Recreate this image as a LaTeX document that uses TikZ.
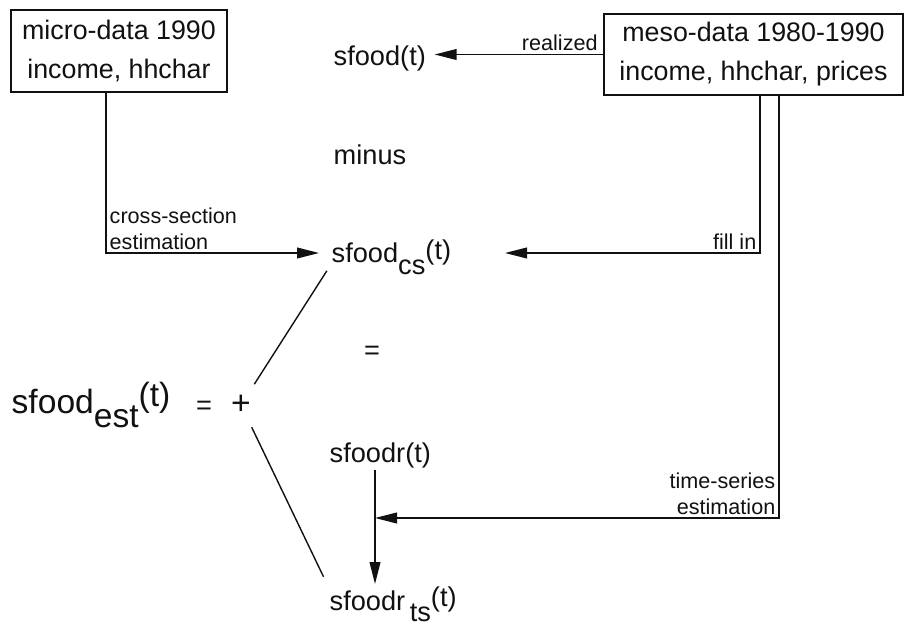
\documentclass[tikz,border=0pt]{standalone}
\usepackage{fontspec}
\setmainfont{Liberation Sans}
\usetikzlibrary{arrows.meta,calc,positioning}
\definecolor{SchemeInk}{HTML}{111111}
\newcommand{\lowpart}[1]{\raisebox{-0.8ex}{#1}}
\newcommand{\highpart}[1]{\raisebox{0.25ex}{#1}}

\begin{document}
\begin{tikzpicture}[x=0.5pt,y=-0.5pt,SchemeInk,line width=0.7pt,
    datbox/.style={draw,align=center,inner sep=0pt,
      font=\fontsize{13.4}{19.5}\selectfont},
    term/.style={inner sep=1pt,anchor=base west,
      font=\fontsize{13.6}{16}\selectfont},
    note/.style={inner sep=1.5pt,font=\fontsize{10.8}{13}\selectfont},
    arr/.style={-{Triangle[length=11pt,width=5.4pt]}}]
  \useasboundingbox (0,0) rectangle (904,625);
  % data sources
  \node[datbox,minimum width=108pt,minimum height=41pt] (micro)
    at (119,51) {micro-data 1990\\income, hhchar};
  \node[datbox,minimum width=149.5pt,minimum height=40.5pt] (meso)
    at (753.5,54.5) {meso-data 1980-1990\\income, hhchar, prices};
  % terms of the decomposition
  \node[term] (real) at (331,66) {sfood(t)};
  \node[term] (minus) at (331,165) {minus};
  \node[term] (cs) at (329,263) {sfood\lowpart{cs}\highpart{(t)}};
  \node[term,anchor=center] (eqsign) at (372,353) {=};
  \node[term] (sr) at (327,462) {sfoodr(t)};
  \node[term] (srts) at (327,610) {sfoodr\,\lowpart{ts}\highpart{(t)}};
  \node[term,font=\fontsize{16.8}{20}\selectfont] (est)
    at (9,413) {sfood\lowpart{est}\raisebox{0.35ex}{(t)}};
  \node[term,anchor=center] (eqbig) at (204,408) {=};
  \node[circle,inner sep=0pt,minimum size=24pt,
    font=\fontsize{16.8}{20}\selectfont] (plus) at (241,405) {+};
  % connectors
  \coordinate (cselbow) at (106,253);
  \draw[arr,shorten >=5pt] (micro.south -| cselbow) -- (cselbow)
    -- (cselbow -| cs.west);
  \node[note,anchor=south west,align=left] (cslab)
    at (cselbow) {cross-section\\estimation};
  \draw[arr,shorten >=3pt] (meso.west) -- (meso.west -| real.east);
  \node[note,anchor=south east,xshift=-1pt] (reallab)
    at (meso.west) {realized};
  \coordinate (fillel) at (760,253);
  \coordinate (filltip) at (505,253);
  \draw[arr] (meso.south -| fillel) -- (fillel) -- (filltip);
  \node[note,anchor=south east] (filllab) at (fillel) {fill in};
  \coordinate (tsel) at (779,518);
  \coordinate (tsjoin) at (375,518);
  \draw[arr] (meso.south -| tsel) -- (tsel) -- (tsjoin);
  \node[note,anchor=south east,align=right] (tslab)
    at (tsel) {time-series\\estimation};
  \draw[arr] (tsjoin |- sr.south) -- (tsjoin |- srts.north);
  \draw[shorten >=2pt] (plus) -- ([yshift=5pt]cs.south west);
  \draw[shorten >=4pt] (plus) -- (srts.north west);
\end{tikzpicture}
\end{document}
